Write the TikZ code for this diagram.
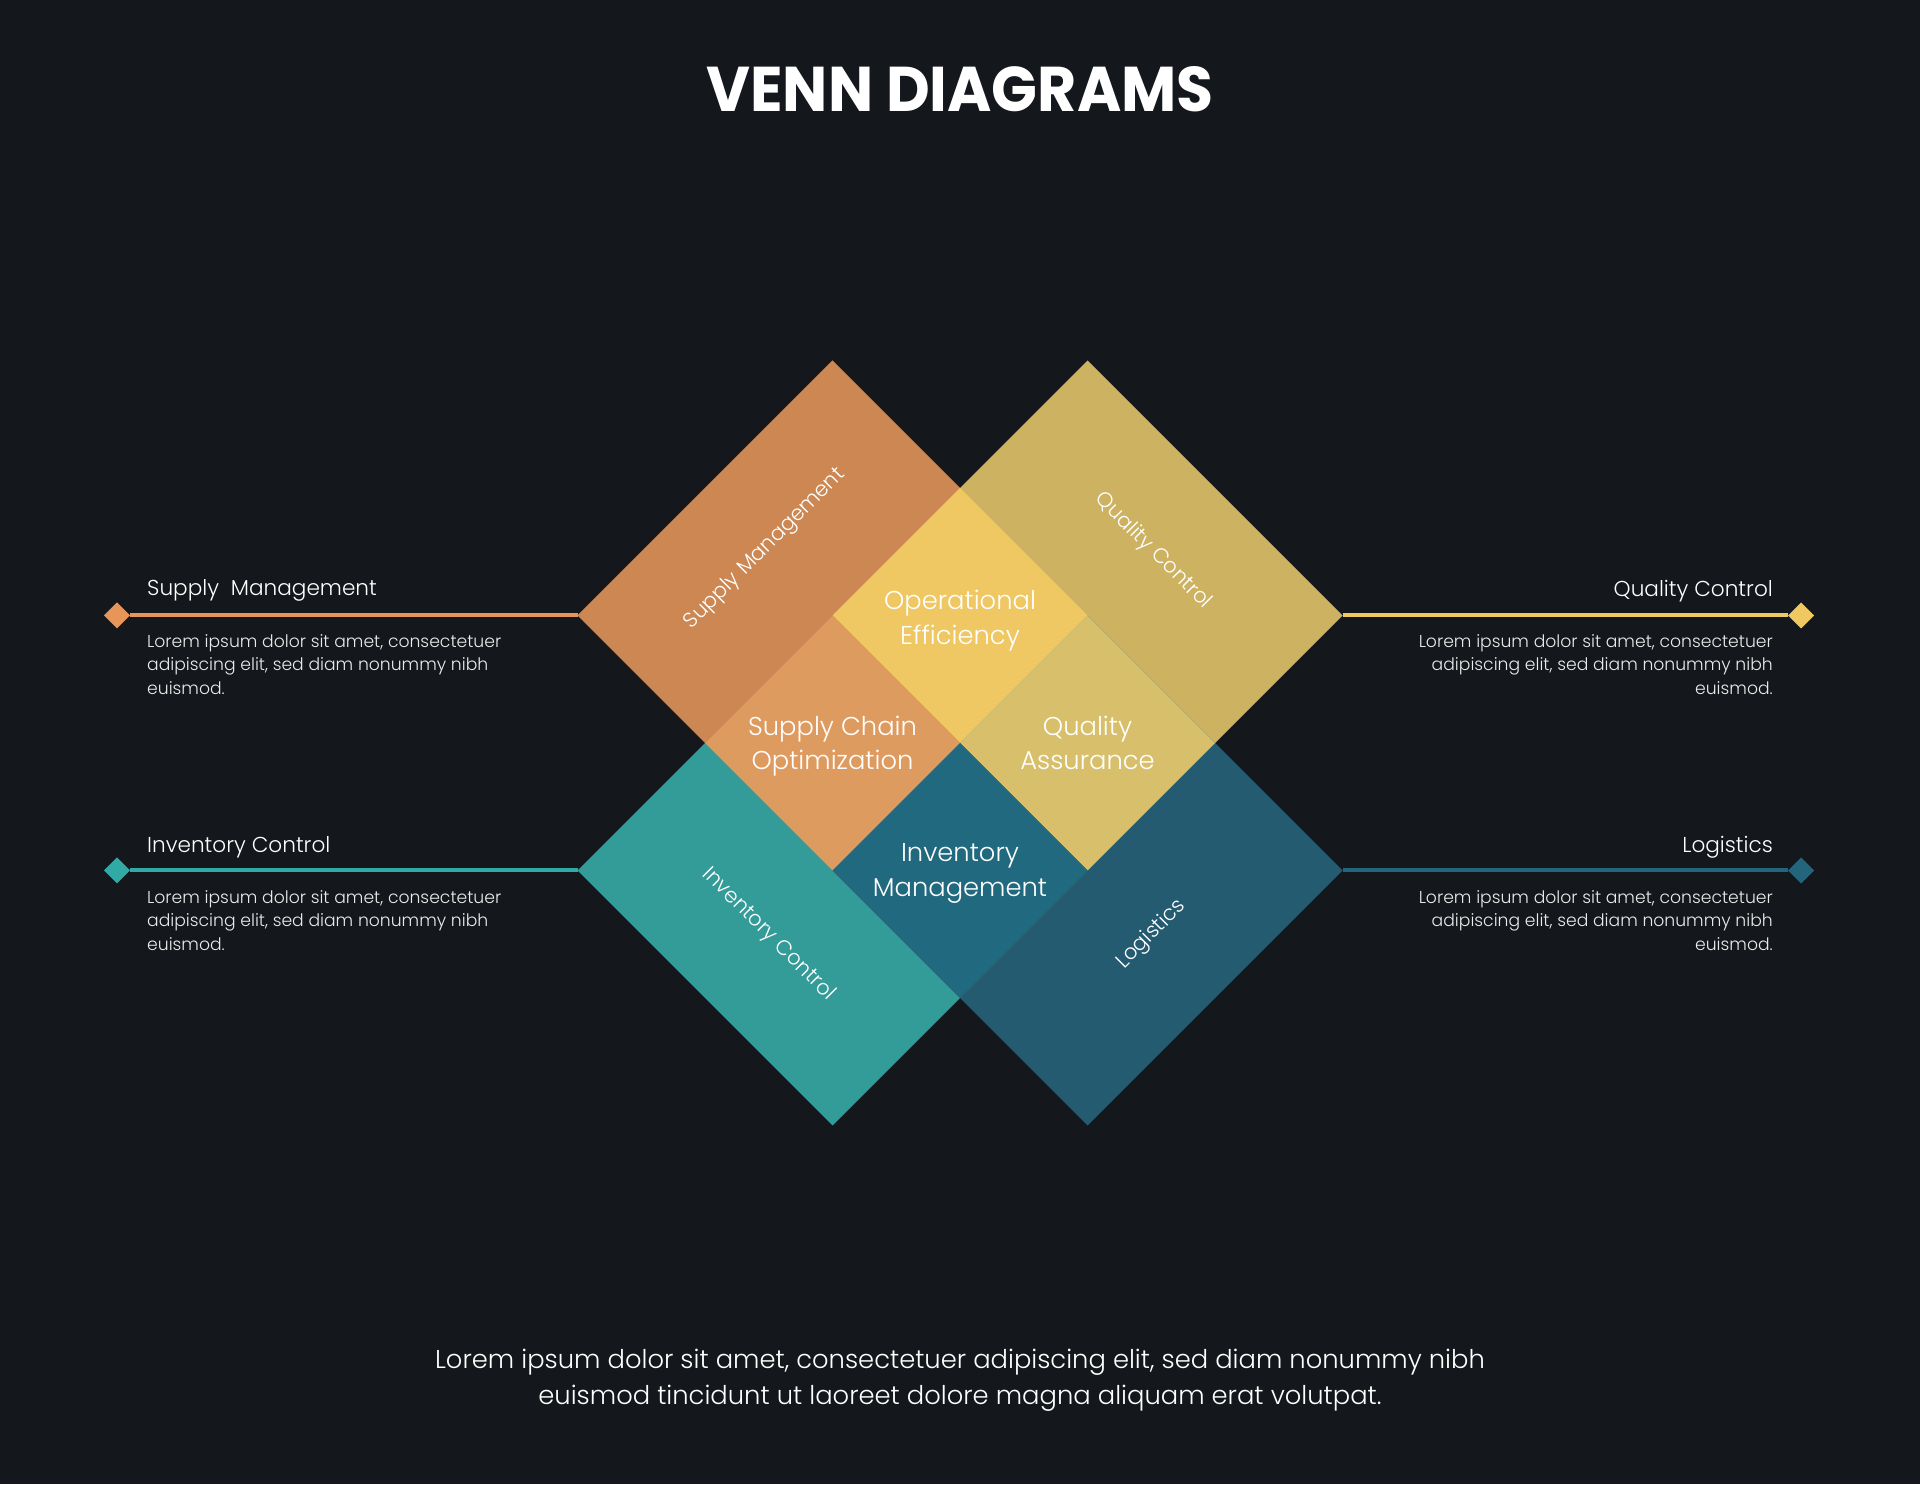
\documentclass[tikz,border=0pt]{standalone}
\usepackage{fontspec}
\setmainfont{Poppins}[UprightFont=* Light]
\newfontfamily\titlefont{Poppins}
\usetikzlibrary{shapes.geometric}

\definecolor{bgdark}{HTML}{14171B}
\definecolor{supplycol}{HTML}{CC8753}
\definecolor{qualitycol}{HTML}{CDB262}
\definecolor{inventcol}{HTML}{339B98}
\definecolor{logistcol}{HTML}{245B71}
\definecolor{opeffcol}{HTML}{EFC763}
\definecolor{chaincol}{HTML}{DE9B60}
\definecolor{assurcol}{HTML}{D8BF6B}
\definecolor{invmgtcol}{HTML}{21697F}
\definecolor{supplyline}{HTML}{E8955A}
\definecolor{qualityline}{HTML}{F0C862}
\definecolor{inventline}{HTML}{31A9A4}
\definecolor{logistline}{HTML}{23657D}

\tikzset{
  bigdia/.style={diamond, aspect=1, inner sep=0, outer sep=0, minimum width=510pt, minimum height=510pt},
  lensdia/.style={diamond, aspect=1, inner sep=0, outer sep=0, minimum width=255pt, minimum height=255pt},
  tipdia/.style={diamond, aspect=1, inner sep=0, outer sep=0, minimum width=26pt, minimum height=26pt},
  lenslabel/.style={text=white, align=center, font=\fontsize{25.8}{34.7}\selectfont},
  sidelabel/.style={text=white, font=\fontsize{21}{25}\selectfont},
  headlabel/.style={text=white, inner sep=0, font=\fontsize{21.6}{26}\selectfont},
  bodytext/.style={text=white!92!black, inner sep=0, font=\fontsize{17.2}{23.5}\selectfont},
  legline/.style={line width=4pt},
}

\begin{document}
\begin{tikzpicture}[x=1pt,y=1pt]
  %%%%% START %%%%%
  \fill[bgdark] (0,0) rectangle (1920,1484);

  \node[text=white, inner sep=0, anchor=base] (title) at (960,1372)
    {\resizebox{507pt}{45pt}{\titlefont\bfseries VENN DIAGRAMS}};

  % big diamonds
  \node[bigdia, fill=supplycol] (supply) at (832.5,868.5) {};
  \node[bigdia, fill=qualitycol] (quality) at (1087.5,868.5) {};
  \node[bigdia, fill=inventcol] (invent) at (832.5,613.5) {};
  \node[bigdia, fill=logistcol] (logist) at (1087.5,613.5) {};

  % overlaps
  \node[lensdia, fill=opeffcol] (opeff) at (960,868.5) {};
  \node[lensdia, fill=chaincol] (chain) at (832.5,741) {};
  \node[lensdia, fill=assurcol] (assur) at (1087.5,741) {};
  \node[lensdia, fill=invmgtcol] (invmgt) at (960,613.5) {};

  \node[lenslabel, yshift=-5pt] (opefftxt) at (opeff) {Operational\\Efficiency};
  \node[lenslabel, yshift=-3pt] (chaintxt) at (chain) {Supply Chain\\Optimization};
  \node[lenslabel] (assurtxt) at (assur) {Quality\\Assurance};
  \node[lenslabel, yshift=-3pt] (invmgttxt) at (invmgt) {Inventory\\Management};

  \node[sidelabel, rotate=45] (supplytxt) at (765,935) {Supply Management};
  \node[sidelabel, rotate=-45] (qualitytxt) at (1153,933) {Quality Control};
  \node[sidelabel, rotate=-45] (inventtxt) at (768.5,549.5) {Inventory Control};
  \node[sidelabel, rotate=45] (logisttxt) at (1151.5,549.5) {Logistics};

  % legend lines
  \node[tipdia, fill=supplyline] (supplytip) at (117,868.5) {};
  \node[tipdia, fill=qualityline] (qualitytip) at (1801,868.5) {};
  \node[tipdia, fill=inventline] (inventtip) at (117,613.5) {};
  \node[tipdia, fill=logistline] (logisttip) at (1801,613.5) {};
  \draw[legline, supplyline] (supplytip) -- (supply.west);
  \draw[legline, qualityline] (qualitytip) -- (quality.east);
  \draw[legline, inventline] (inventtip) -- (invent.west);
  \draw[legline, logistline] (logisttip) -- (logist.east);

  \node[headlabel, anchor=base west] (supplyhead) at (147,888) {Supply~ Management};
  \node[bodytext, anchor=north west, align=left] (supplybody) at (147,850)
    {Lorem ipsum dolor sit amet, consectetuer\\adipiscing elit, sed diam nonummy nibh\\euismod.};
  \node[headlabel, anchor=base east] (qualityhead) at (1773,887.3) {Quality Control};
  \node[bodytext, anchor=north east, align=right] (qualitybody) at (1773,850)
    {Lorem ipsum dolor sit amet, consectetuer\\adipiscing elit, sed diam nonummy nibh\\euismod.};
  \node[headlabel, anchor=base west] (inventhead) at (147,631.3) {Inventory Control};
  \node[bodytext, anchor=north west, align=left] (inventbody) at (147,594)
    {Lorem ipsum dolor sit amet, consectetuer\\adipiscing elit, sed diam nonummy nibh\\euismod.};
  \node[headlabel, anchor=base east] (logisthead) at (1773,631.3) {Logistics};
  \node[bodytext, anchor=north east, align=right] (logistbody) at (1773,594)
    {Lorem ipsum dolor sit amet, consectetuer\\adipiscing elit, sed diam nonummy nibh\\euismod.};

  \node[text=white, inner sep=0, align=center, font=\fontsize{25.8}{36}\selectfont, anchor=north] (footer) at (960,135.6)
    {Lorem ipsum dolor sit amet, consectetuer adipiscing elit, sed diam nonummy nibh\\euismod tincidunt ut laoreet dolore magna aliquam erat volutpat.};
  %%%%% END %%%%%
\end{tikzpicture}
\end{document}
